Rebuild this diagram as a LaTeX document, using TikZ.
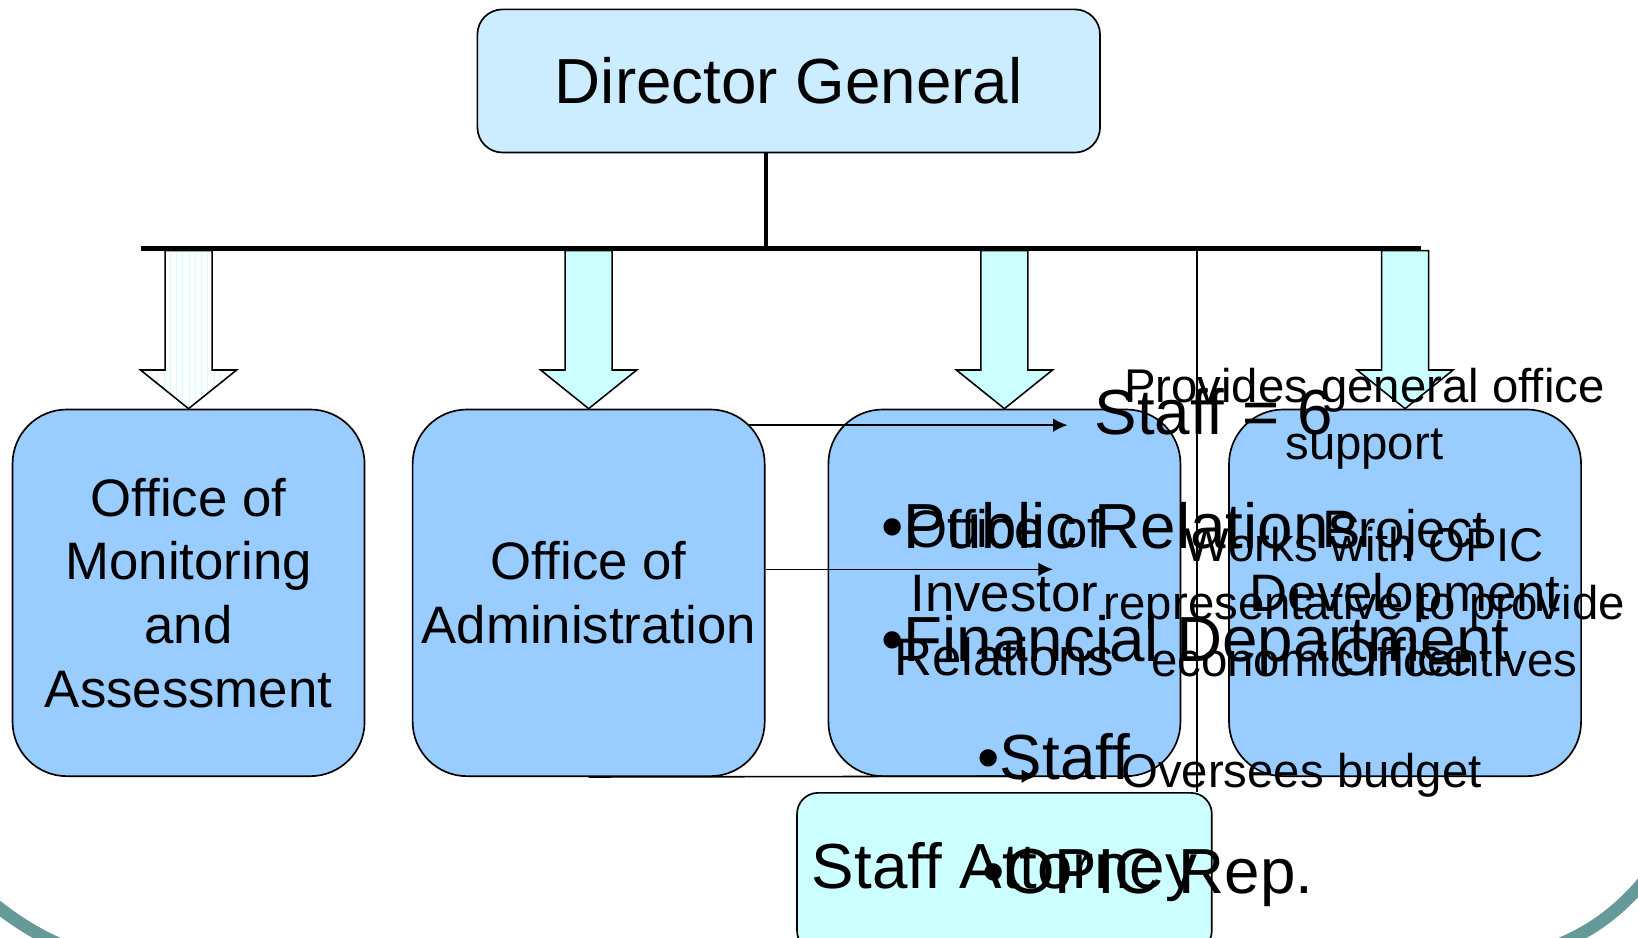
\documentclass[tikz,border=0pt]{standalone}
\usepackage{fontspec}
\setmainfont{Liberation Sans}
\usepackage{xcolor}
\usepackage{tikz}
\usetikzlibrary{arrows.meta,calc,patterns}

\definecolor{dgfill}{HTML}{CCECFF}
\definecolor{officefill}{HTML}{99CCFF}
\definecolor{arrowfill}{HTML}{CCFFFF}
\definecolor{slideteal}{HTML}{669999}

\begin{document}
\begin{tikzpicture}[x=0.5pt,y=-0.5pt,>={Latex[length=7pt,width=6.5pt]},thick,
    top node/.style={draw,rounded corners=12pt,fill=dgfill,inner sep=0pt,
      minimum width=298pt,minimum height=68.5pt,font=\fontsize{30.5}{36}\selectfont},
    office node/.style={draw,rounded corners=26pt,fill=officefill,inner sep=0pt,
      minimum width=168.5pt,minimum height=175.5pt,align=center,
      font=\fontsize{25.25}{30.5}\selectfont},
    attorney node/.style={draw,rounded corners=10pt,fill=arrowfill,inner sep=0pt,
      minimum width=198.5pt,minimum height=76pt,font=\fontsize{30.5}{36}\selectfont},
    big text/.style={inner sep=0pt,anchor=base west,font=\fontsize{30.5}{36}\selectfont},
    note text/.style={inner sep=0pt,align=center,font=\fontsize{22.65}{27.5}\selectfont},
    block arrow/.style={draw,-,line width=0.75pt,line join=miter}]

  \useasboundingbox (0,0) rectangle (1568,897);

  % slide frame
  \draw[slideteal,line width=6pt] (-10,862) .. controls (10,878) and (30,892) .. (55,903);
  \draw[slideteal,line width=6pt] (1495,903) .. controls (1525,890) and (1550,872) .. (1575,842);

  \node[top node] (dg) at (755,77.5) {Director General};

  \node[office node] (mon) at (180.5,567.5) {Office of\\Monitoring\\and\\Assessment};
  \node[office node] (adm) at (563.5,567.5) {Office of\\Administration};
  \node[office node] (inv) at (961.5,567.5) {Office of\\Investor\\Relations};
  \node[office node] (pdo) at (1345,567.5) {Project\\Development\\Office};

  \coordinate (barL) at (135,238);
  \coordinate (barR) at (1360,238);
  \coordinate (hub) at (733,238);
  \coordinate (tap) at (1146,238);

  \draw[line width=2pt] (dg.south -| hub) -- (hub);
  \draw[line width=2.5pt] (barL) -- (barR);

  % block arrows
  \draw[block arrow,pattern=vertical lines,pattern color=arrowfill]
    ($(mon.north |- barL)+(-22.5,2)$) -- ($(mon.north)+(-22.5,-37)$) -- ($(mon.north)+(-46,-37)$)
    -- (mon.north) -- ($(mon.north)+(46,-37)$) -- ($(mon.north)+(22.5,-37)$)
    -- ($(mon.north |- barL)+(22.5,2)$) -- cycle;
  \foreach \n in {adm,inv,pdo}
    \draw[block arrow,fill=arrowfill]
      ($(\n.north |- barL)+(-22.5,2)$) -- ($(\n.north)+(-22.5,-37)$) -- ($(\n.north)+(-46,-37)$)
      -- (\n.north) -- ($(\n.north)+(46,-37)$) -- ($(\n.north)+(22.5,-37)$)
      -- ($(\n.north |- barL)+(22.5,2)$) -- cycle;

  \node[attorney node] (att) at (961.5,835) {Staff Attorney};

  \draw[line width=0.75pt] (tap) -- (tap |- att.north);

  \coordinate (s1) at (717,407);
  \coordinate (e1) at (1022,407);
  \coordinate (e2) at (1008,545);
  \coordinate (e3) at (992,743);

  \path[->,line width=0.75pt]
    (s1) edge (e1)
    (adm.east |- e2) edge (e2)
    (adm.south) edge (e3);

  \node[big text] (staff6) at (1047,416) {Staff = 6};
  \node[note text] (support) at (1306,401) {Provides general office\\support};
  \node[big text] (pr) at (843,525) {•Public Relations};
  \node[big text] (fin) at (843,633) {•Financial Department};
  \node[note text] (opic) at (1306,576.5) {Works with OPIC\\representative to provide\\economic incentives};
  \node[big text] (stf) at (935,746) {•Staff};
  \node[note text,anchor=base] (budget) at (1246,754) {Oversees budget};
  \node[big text] (rep) at (940,855) {•OPIC Rep.};
\end{tikzpicture}
\end{document}
